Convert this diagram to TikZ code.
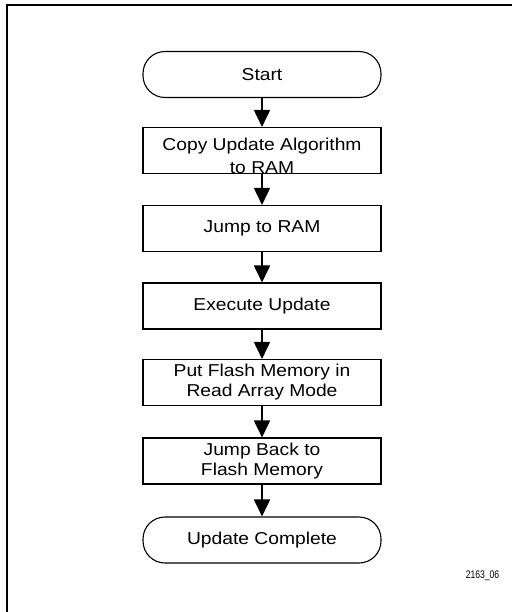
\documentclass[tikz,border=0pt]{standalone}
\usepackage{fontspec}
\usetikzlibrary{arrows.meta}
\newfontfamily\mainwide[FakeStretch=1.12]{Liberation Sans}
\newfontfamily\labnarrow[FakeStretch=0.78]{Liberation Sans}
\tikzset{
  stepbox/.style={draw, line width=1.1pt, minimum width=238pt, minimum height=46pt,
    inner sep=0pt, align=center, font=\mainwide\fontsize{17.2}{20}\selectfont},
  termbox/.style={stepbox, rounded corners=22pt},
  txt/.style={inner sep=0pt, align=center, font=\mainwide\fontsize{17.2}{23.3}\selectfont},
  flow/.style={line width=1.8pt, -{Triangle[length=17pt,width=16pt]}},
}
\begin{document}
\begin{tikzpicture}[x=1pt,y=-1pt]
\useasboundingbox (0,0) rectangle (511,612);
\draw[line width=2pt] (7,613) -- (7,5) -- (512,5);
\node[termbox] (start) at (262,74.5) {Start};
\node[stepbox] (b1) at (262,150.5) {};
\node[txt] (b1t) at (262,156) {Copy Update Algorithm\\to RAM};
\node[stepbox] (b2) at (262,228.5) {Jump to RAM};
\node[stepbox] (b3) at (262,306) {Execute Update};
\node[stepbox] (b4) at (262,382.5) {Put Flash Memory in\\Read Array Mode};
\node[stepbox] (b5) at (262,461) {Jump Back to\\Flash Memory};
\node[termbox] (end) at (262,540) {Update Complete};
\node[inner sep=0pt, font=\labnarrow\fontsize{11}{13}\selectfont] (lab) at (482.5,576) {2163\_06};
\draw[flow] (start) -- (b1);
\draw[flow] (b1) -- (b2);
\draw[flow] (b2) -- (b3);
\draw[flow] (b3) -- (b4);
\draw[flow] (b4) -- (b5);
\draw[flow] (b5) -- (end);
\end{tikzpicture}
\end{document}
